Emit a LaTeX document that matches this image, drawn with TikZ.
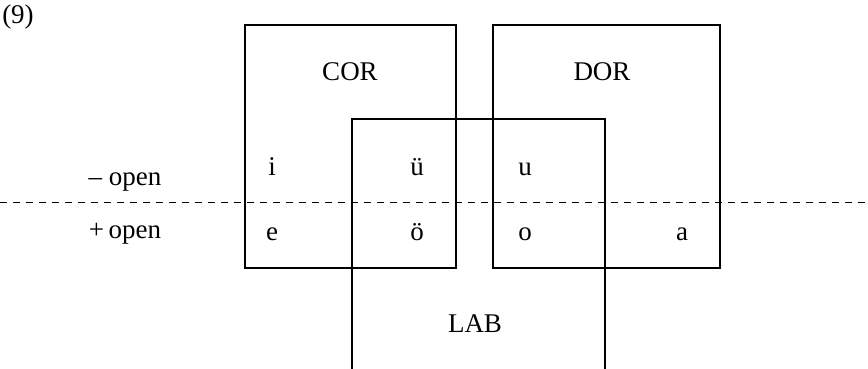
\documentclass[tikz,border=0pt]{standalone}
\usepackage{fontspec}
\setmainfont{Liberation Serif}
\begin{document}
\begin{tikzpicture}[x=1pt,y=-1pt,
  box/.style={draw,line width=1.2pt},
  lbl/.style={anchor=base,inner sep=0pt,font=\fontsize{27}{32}\selectfont}]
\useasboundingbox (0,0) rectangle (868,369);
% boxes
\draw[box] (245,25) rectangle (456,268);
\draw[box] (493,25) rectangle (720,268);
\draw[box] (352,369) -- (352,119) -- (605,119) -- (605,369);
% dashed line
\draw[line width=1pt,dash pattern=on 7pt off 6pt] (0,202) -- (868,202);
% labels
\node[lbl] (n9) at (18,24) {(9)};
\node[lbl] (cor) at (350,81) {COR};
\node[lbl] (dor) at (602,81) {DOR};
\node[lbl] (lab) at (475,332) {LAB};
\node[lbl] (mopen) at (125,185) {– open};
\node[lbl] (popen) at (125,238) {+\,open};
\node[lbl] (i) at (272,175) {i};
\node[lbl] (uu) at (417,175) {ü};
\node[lbl] (u) at (525,175) {u};
\node[lbl] (e) at (272,240) {e};
\node[lbl] (oo) at (417,240) {ö};
\node[lbl] (o) at (525,240) {o};
\node[lbl] (a) at (682,240) {a};
\end{tikzpicture}
\end{document}
